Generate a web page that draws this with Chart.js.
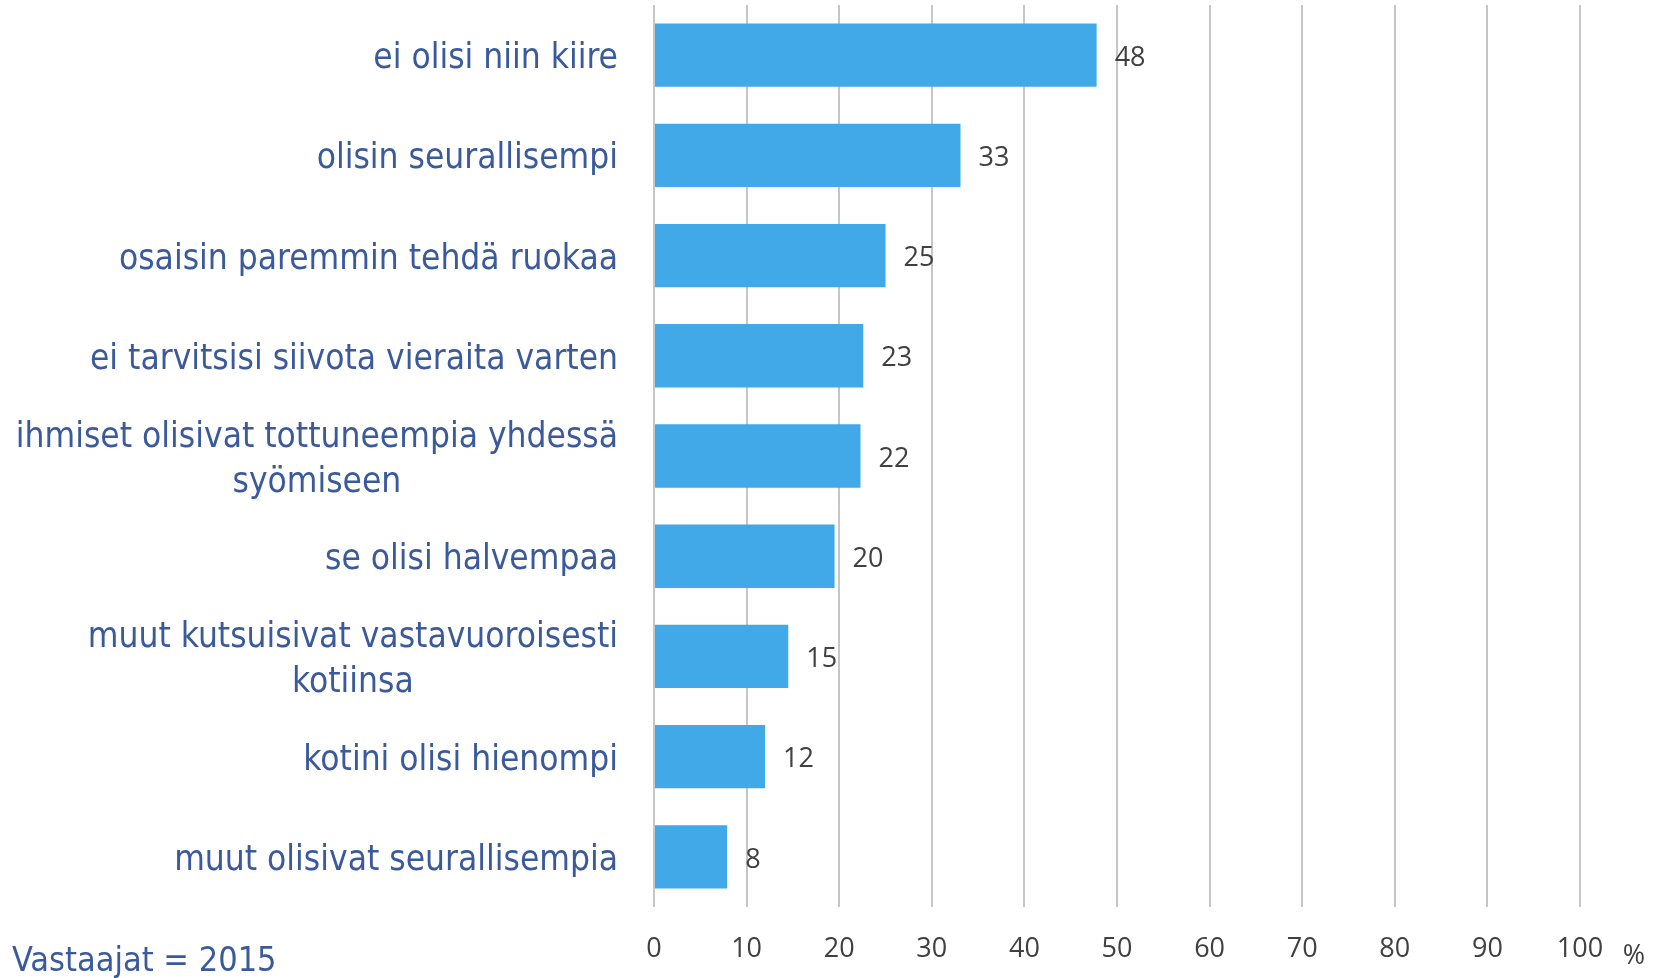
<!DOCTYPE html>
<html>
<head>
<meta charset="utf-8">
<script src="https://cdn.jsdelivr.net/npm/chart.js@4/dist/chart.umd.min.js"></script>
<style>
    html, body { margin: 0; padding: 0; background: #ffffff; }
    #wrap { width: 1663px; height: 978px; position: relative; }
</style>
</head>
<body>
<div id="wrap"><canvas id="survey_chart"></canvas></div>
<script>
// category labels, one entry per line
const categories = [
    ["ei olisi niin kiire"],
    ["olisin seurallisempi"],
    ["osaisin paremmin tehdä ruokaa"],
    ["ei tarvitsisi siivota vieraita varten"],
    ["ihmiset olisivat tottuneempia yhdessä", "syömiseen"],
    ["se olisi halvempaa"],
    ["muut kutsuisivat vastavuoroisesti", "kotiinsa"],
    ["kotini olisi hienompi"],
    ["muut olisivat seurallisempia"]
];
const values = [47.8, 33.1, 25.0, 22.6, 22.3, 19.5, 14.5, 12.0, 7.9];
const x_min = 0;
const x_max = 100;
const x_step = 10;
const unit_text = "%";
const footnote_text = "Vastaajat = 2015";

const label_blue = "#3a5a9c";
const text_gray = "#404040";
const grid_gray = "#c6c6c6";
const bar_blue = "#41a9e8";

const text_plugin = {
    id: "text_plugin",
    afterDatasetsDraw(chart) {
        let ctx = chart.ctx;
        let meta = chart.getDatasetMeta(0);
        ctx.save();

        // value labels next to bars
        ctx.font = "27px 'Open Sans'";
        ctx.fillStyle = text_gray;
        ctx.textAlign = "left";
        ctx.textBaseline = "middle";
        meta.data.forEach((bar, i) => {
            ctx.fillText(String(Math.round(values[i])), bar.x + 18, bar.y + 3);
        });

        // category labels, block right aligned, lines centred
        let y_scale = chart.scales.y;
        let right = chart.chartArea.left - 36;
        ctx.font = "35px 'DejaVu Sans Condensed'";
        ctx.fillStyle = label_blue;
        ctx.textAlign = "center";
        ctx.textBaseline = "alphabetic";
        categories.forEach((lines, i) => {
            let yc = y_scale.getPixelForValue(i);
            let widest = Math.max(...lines.map((l) => ctx.measureText(l).width));
            let cx = right - widest / 2;
            lines.forEach((line, k) => {
                ctx.fillText(line, cx, yc + 13 + (k - (lines.length - 1) / 2) * 45);
            });
        });

        // unit after the x axis and footnote
        let x_scale = chart.scales.x;
        ctx.font = "27px 'Open Sans'";
        ctx.fillStyle = text_gray;
        ctx.textAlign = "center";
        ctx.fillText(unit_text, x_scale.right + 54, 964);

        ctx.font = "34px 'DejaVu Sans Condensed'";
        ctx.fillStyle = label_blue;
        ctx.textAlign = "left";
        ctx.fillText(footnote_text, 12, 971);
        ctx.restore();
    }
};

var surveyChart = new Chart(
    document.getElementById("survey_chart"),
    {
        type: "bar",
        data: {
            labels: categories.map((lines) => lines.join(" ")),
            datasets: [
                {
                    data: values,
                    backgroundColor: bar_blue,
                    borderWidth: 0,
                    barPercentage: 0.632,
                    categoryPercentage: 1.0
                }
            ]
        },
        options: {
            indexAxis: "y",
            responsive: true,
            maintainAspectRatio: false,
            animation: false,
            layout: {
                padding: { left: 654, right: 83, top: 5, bottom: 15 }
            },
            plugins: {
                legend: { display: false },
                tooltip: { enabled: false }
            },
            scales: {
                x: {
                    min: x_min,
                    max: x_max,
                    position: "bottom",
                    afterFit: (scale) => { scale.height = 56; },
                    ticks: {
                        stepSize: x_step,
                        padding: 26,
                        color: text_gray,
                        font: { family: "'Open Sans'", size: 27 }
                    },
                    grid: {
                        color: grid_gray,
                        lineWidth: 2,
                        drawTicks: false
                    },
                    border: { display: false }
                },
                y: {
                    display: false
                }
            }
        },
        plugins: [text_plugin]
    }
);
</script>
</body>
</html>
